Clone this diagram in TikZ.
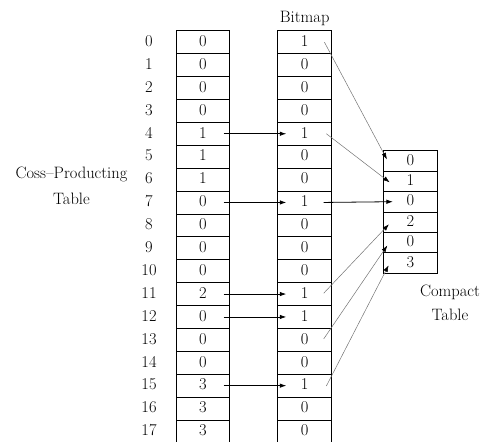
\documentclass[tikz,border=0pt]{standalone}
\usepackage{fontspec}
\usetikzlibrary{arrows.meta}
\begin{document}
\begin{tikzpicture}[x=1pt,y=-1pt,
  every node/.style={font=\fontsize{16.5}{20}\selectfont, inner sep=0pt},
  celltext/.style={text height=0.85em, text depth=0pt},
  cellL/.style={celltext, draw, line width=0.8pt, minimum width=52.6pt, minimum height=22.9pt},
  cellB/.style={celltext, draw, line width=0.8pt, minimum width=54pt, minimum height=22.9pt},
  cellC/.style={celltext, draw, line width=0.8pt, minimum width=53.6pt, minimum height=20.4pt},
  idx/.style={celltext},
  lbl/.style={anchor=base},
  bigarrow/.style={line width=0.8pt, -{Latex[length=6.5pt,width=4.5pt]}},
  thinarrow/.style={line width=0.5pt, draw=black!55, -{Latex[length=6.5pt,width=4.5pt,color=black]}}
]
\useasboundingbox (0,0) rectangle (491,442);

% left table + indices
\foreach \i/\v in {0/0,1/0,2/0,3/0,4/1,5/1,6/1,7/0,8/0,9/0,10/0,11/2,12/0,13/0,14/0,15/3,16/3,17/3}{
  \node[idx] (I\i) at (149,{30.7+22.9*(\i+0.5)}) {\i};
  \node[cellL] (L\i) at (203,{30.7+22.9*(\i+0.5)}) {\v};
}
% bitmap
\foreach \i/\v in {0/1,1/0,2/0,3/0,4/1,5/0,6/0,7/1,8/0,9/0,10/0,11/1,12/1,13/0,14/0,15/1,16/0,17/0}{
  \node[cellB] (B\i) at (304.7,{30.7+22.9*(\i+0.5)}) {\v};
}
% compact table
\foreach \j/\v in {0/0,1/1,2/0,3/2,4/0,5/3}{
  \node[cellC] (C\j) at (410.5,{150.7+20.4*(\j+0.5)}) {\v};
}

% labels
\node[lbl] (bitmaplbl) at (304.7,22) {Bitmap};
\node[lbl] (cptl1) at (71.5,178.3) {Coss–Producting};
\node[lbl] (cptl2) at (71.5,204) {Table};
\node[lbl] (ctl1) at (450,296.7) {Compact};
\node[lbl] (ctl2) at (450,320.7) {Table};

% black arrows left -> bitmap
\foreach \i in {4,7,11,12,15}{
  \draw[bigarrow] ([xshift=-6pt]L\i.east) -- ([xshift=9pt]B\i.west);
}
\draw[bigarrow] ([xshift=-8.4pt]B7.east) -- ([xshift=9.6pt]C2.west);

% thin gray arrows bitmap -> compact
\draw[thinarrow] ([xshift=-7.7pt]B0.east) -- ([xshift=3.6pt,yshift=1.6pt]C0.west);
\draw[thinarrow] ([xshift=-5.7pt]B4.east) -- ([xshift=6.3pt,yshift=-1pt]C1.west);
\draw[thinarrow] ([xshift=-8.4pt,yshift=0.8pt]B11.east) -- ([xshift=5.6pt,yshift=-2.2pt]C3.west);
\draw[thinarrow] ([xshift=-8.4pt,yshift=0.9pt]B13.east) -- ([xshift=4pt,yshift=-3pt]C4.west);
\draw[thinarrow] ([xshift=-5.7pt,yshift=-0.3pt]B15.east) -- ([xshift=5.3pt,yshift=-2.4pt]C5.west);
\end{tikzpicture}
\end{document}
